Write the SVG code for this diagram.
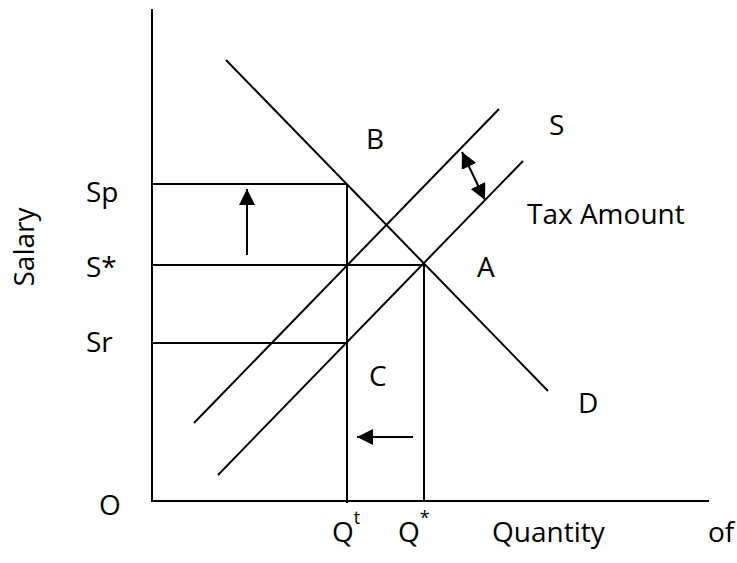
<svg xmlns="http://www.w3.org/2000/svg" width="737" height="563" viewBox="0 0 737 563">
<defs>
<style>
.ln{stroke:#000;stroke-width:2;fill:none;stroke-linecap:butt}
.t{font-family:"Open Sans","DejaVu Sans",sans-serif;font-size:28px;fill:#000}
.sup{font-family:"Open Sans","DejaVu Sans",sans-serif;font-size:18px;fill:#000}
</style>
<marker id="ah" markerUnits="userSpaceOnUse" markerWidth="16" markerHeight="16" refX="16" refY="8" orient="auto-start-reverse" viewBox="0 0 16 16">
<path d="M0,0 L16,8 L0,16 z" fill="#000"/>
</marker>
</defs>
<rect width="737" height="563" fill="#fff"/>
<g id="axes">
<line class="ln" x1="152" y1="9" x2="152" y2="501"/>
<line class="ln" x1="151" y1="501" x2="709" y2="501"/>
</g>
<g id="curves">
<line id="demand" class="ln" x1="226" y1="60" x2="548" y2="391"/>
<line id="supply-s" class="ln" x1="194" y1="423" x2="499" y2="109"/>
<line id="supply" class="ln" x1="218" y1="475" x2="523" y2="161"/>
</g>
<g id="guides">
<line class="ln" x1="152" y1="184" x2="347" y2="184"/>
<line class="ln" x1="152" y1="265" x2="425" y2="265"/>
<line class="ln" x1="152" y1="343" x2="347" y2="343"/>
<line class="ln" x1="347" y1="184" x2="347" y2="503"/>
<line class="ln" x1="424" y1="265" x2="424" y2="501"/>
</g>
<g id="connectors">
<line class="ln" x1="247" y1="255" x2="247" y2="189" marker-end="url(#ah)"/>
<line class="ln" x1="413" y1="437" x2="357" y2="437" marker-end="url(#ah)"/>
<line class="ln" x1="462" y1="152" x2="485" y2="200" marker-start="url(#ah)" marker-end="url(#ah)"/>
</g>
<g id="labels">
<text class="t" x="86" y="202">Sp</text>
<text class="t" x="86" y="277">S*</text>
<text class="t" x="86" y="352">Sr</text>
<text class="t" transform="translate(34,247) rotate(-90)" text-anchor="middle">Salary</text>
<text class="t" x="99" y="515">O</text>
<text class="t" x="366" y="149">B</text>
<text class="t" x="549" y="135">S</text>
<text class="t" x="527" y="224">Tax Amount</text>
<text class="t" x="477" y="277">A</text>
<text class="t" x="369" y="386">C</text>
<text class="t" x="578" y="413">D</text>
<text class="t" x="332" y="542">Q<tspan class="sup" dy="-18">t</tspan></text>
<text class="t" x="398" y="542">Q<tspan class="sup" dy="-18">*</tspan></text>
<text class="t" x="492" y="542">Quantity</text>
<text class="t" x="708" y="542">of</text>
</g>
</svg>
